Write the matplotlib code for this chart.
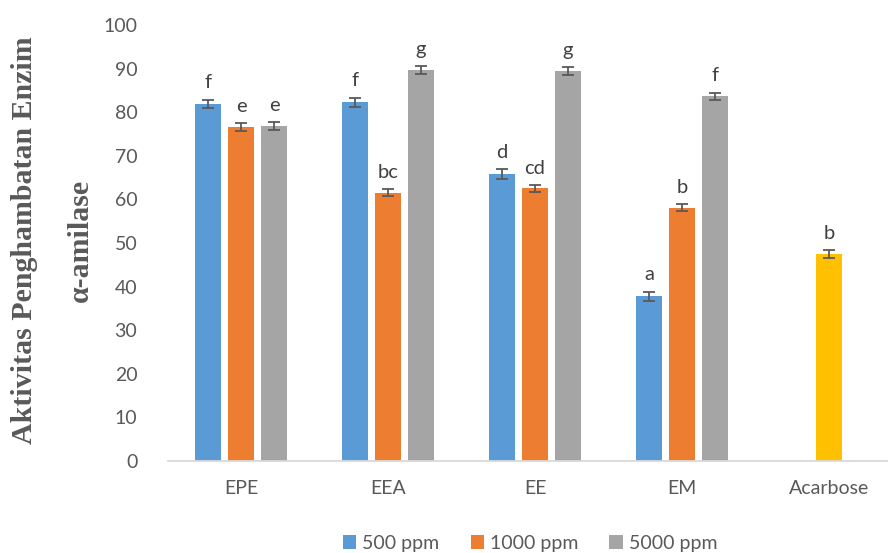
import matplotlib.pyplot as plt
import numpy as np


categories = ["EPE", "EEA", "EE", "EM", "Acarbose"]
series_names = ["500 ppm", "1000 ppm", "5000 ppm"]

# inhibition (%) per extract, Acarbose is the reference drug
val_500 = [81.9, 82.3, 65.8, 37.8]
val_1000 = [76.6, 61.5, 62.5, 58.1]
val_5000 = [76.8, 89.6, 89.4, 83.7]
acarbose = 47.5

err_500 = [1.0, 1.0, 1.1, 1.0]
err_1000 = [0.9, 0.8, 0.8, 0.8]
err_5000 = [0.9, 0.9, 0.9, 0.8]
err_acarbose = 0.9

lbl_500 = ["f", "f", "d", "a"]
lbl_1000 = ["e", "bc", "cd", "b"]
lbl_5000 = ["e", "g", "g", "f"]
lbl_acarbose = "b"

COLORS = ["#5B9BD5", "#ED7D31", "#A5A5A5"]
ACARBOSE_COLOR = "#FFC000"
TEXT_GREY = "#595959"

plt.rcParams["font.family"] = ["Lato", "DejaVu Sans"]

fig = plt.figure(figsize=(8.88, 5.53), dpi=100)
ax = fig.add_axes([0.189, 0.1664, 0.827, 0.7884])

x = np.arange(len(categories) - 1)
width = 0.177
step = 0.224

all_vals = [val_500, val_1000, val_5000]
all_errs = [err_500, err_1000, err_5000]
all_lbls = [lbl_500, lbl_1000, lbl_5000]

for i in range(3):
    pos = x + (i - 1) * step
    ax.bar(pos, all_vals[i], width, color=COLORS[i], label=series_names[i],
           yerr=all_errs[i], capsize=4,
           error_kw=dict(ecolor="#595959", elinewidth=1.3, capthick=1.3))
    for p, v, e, t in zip(pos, all_vals[i], all_errs[i], all_lbls[i]):
        ax.annotate(t, (p, v + e), xytext=(0, 6), textcoords="offset points",
                    ha="center", va="bottom", fontsize=14.5, color="#404040")

# Acarbose sits in the middle slot of its group
ax.bar(4, acarbose, width, color=ACARBOSE_COLOR, yerr=err_acarbose, capsize=4,
       error_kw=dict(ecolor="#595959", elinewidth=1.3, capthick=1.3))
ax.annotate(lbl_acarbose, (4, acarbose + err_acarbose), xytext=(0, 6),
            textcoords="offset points", ha="center", va="bottom",
            fontsize=14.5, color="#404040")

ax.set_xlim(-0.5, 4.5)
ax.set_ylim(0, 100)
ax.set_yticks(range(0, 101, 10))
ax.set_xticks(range(len(categories)))
ax.set_xticklabels(categories)
ax.tick_params(axis="both", length=0, labelsize=14, colors=TEXT_GREY)
ax.tick_params(axis="x", pad=14)
ax.tick_params(axis="y", pad=22)

for side in ["top", "right", "left"]:
    ax.spines[side].set_visible(False)
ax.spines["bottom"].set_color("#D9D9D9")
ax.spines["bottom"].set_linewidth(1.3)

fig.text(0.028, 0.566, "Aktivitas Penghambatan Enzim", rotation=90,
         ha="center", va="center", fontsize=21.5, fontweight="bold",
         family="Liberation Serif", color=TEXT_GREY)
fig.text(0.09, 0.566, "α-amilase", rotation=90,
         ha="center", va="center", fontsize=21.5, fontweight="bold",
         family="Liberation Serif", color=TEXT_GREY)

fig.legend(loc="center", bbox_to_anchor=(0.597, 0.018), ncol=3,
           frameon=False, fontsize=14, handlelength=0.7, handleheight=0.7,
           handletextpad=0.3, columnspacing=1.6, labelcolor=TEXT_GREY)

fig.savefig("out.png", dpi=100)
